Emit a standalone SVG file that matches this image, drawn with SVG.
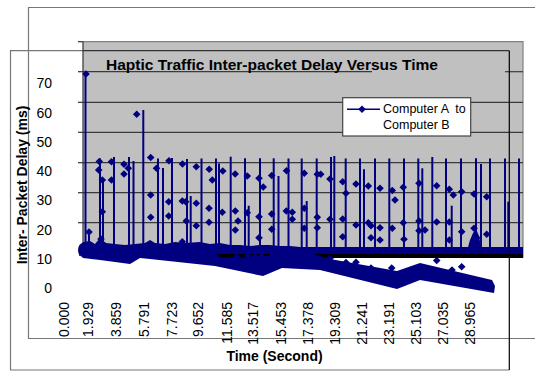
<svg xmlns="http://www.w3.org/2000/svg" xmlns:xlink="http://www.w3.org/1999/xlink" width="535" height="371" viewBox="0 0 535 371">
  <style>
    .frame { fill: none; stroke: #777; stroke-width: 1.2; }
    .grid { stroke: #3a3a3a; stroke-width: 1.2; }
    .spk { stroke: #000080; stroke-width: 2; }
    .dat { fill: #000080; }
    .lbl { font-family: "Liberation Sans", Arial, sans-serif; font-size: 14px; fill: #000; }
    .bold { font-family: "Liberation Sans", Arial, sans-serif; font-weight: bold; fill: #000; }
    .leg { font-family: "Liberation Sans", Arial, sans-serif; font-size: 12.5px; fill: #000; }
  </style>
  <defs>
    <path id="dm" d="M0,-3.8 L3.8,0 L0,3.8 L-3.8,0 Z" fill="#000080"/>
  </defs>

  <rect width="535" height="371" fill="#fff"/>

  <!-- outer chart frame -->
  <g id="outer-frame">
    <path class="frame" d="M540,7.5 H28.5 V338.5 H540"/>
  </g>
  <!-- inner chart frame -->
  <g id="inner-frame">
    <path class="frame" d="M509.3,50.7 H10.5 V370 H509.3"/>
  </g>

  <!-- plot area -->
  <g id="plot-area">
    <rect x="83" y="42" width="440" height="216" fill="#c0c0c0"/>
    <path d="M83,41.7 H523 V258" fill="none" stroke="#808080" stroke-width="1.2"/>
    <g class="grid">
      <line x1="83" y1="71.7" x2="372" y2="71.7"/>
      <line x1="505" y1="71.7" x2="523" y2="71.7"/>
      <line x1="83" y1="102.3" x2="523" y2="102.3"/>
      <line x1="83" y1="132.3" x2="523" y2="132.3"/>
      <line x1="83" y1="162.7" x2="523" y2="162.7"/>
      <line x1="83" y1="192.7" x2="523" y2="192.7"/>
      <line x1="83" y1="222.7" x2="523" y2="222.7"/>
    </g>
    <line x1="83" y1="50.7" x2="509.3" y2="50.7" stroke="#333" stroke-width="1.2"/>
    <!-- value axis with ticks -->
    <g stroke="#333" stroke-width="1.2">
      <line x1="83" y1="41.7" x2="83" y2="258"/>
      <line x1="78" y1="41.7" x2="83" y2="41.7"/>
      <line x1="78" y1="71.7" x2="83" y2="71.7"/>
      <line x1="78" y1="102.3" x2="83" y2="102.3"/>
      <line x1="78" y1="132.3" x2="83" y2="132.3"/>
      <line x1="78" y1="162.7" x2="83" y2="162.7"/>
      <line x1="78" y1="192.7" x2="83" y2="192.7"/>
      <line x1="78" y1="222.7" x2="83" y2="222.7"/>
    </g>
  </g>

  <!-- chart title -->
  <g id="title">
    <text class="bold" x="106" y="69.5" font-size="15" textLength="332" lengthAdjust="spacingAndGlyphs">Haptic Traffic Inter-packet Delay Versus Time</text>
  </g>

  <!-- series: Computer A to Computer B -->
  <g id="series">
    <!-- spikes -->
    <g class="spk">
      <line x1="85.5" y1="247" x2="85.5" y2="74"/>
      <line x1="89" y1="247" x2="89" y2="232"/>
      <line x1="100" y1="247" x2="100" y2="158.5"/>
      <line x1="103" y1="247" x2="103" y2="179"/>
      <line x1="114" y1="247" x2="114" y2="157"/>
      <line x1="129" y1="247" x2="129" y2="157"/>
      <line x1="133.5" y1="247" x2="133.5" y2="161"/>
      <line x1="143.3" y1="247" x2="143.3" y2="110"/>
      <line x1="158" y1="247" x2="158" y2="158.5"/>
      <line x1="163" y1="247" x2="163" y2="168"/>
      <line x1="172" y1="247" x2="172" y2="158"/>
      <line x1="187" y1="247" x2="187" y2="159"/>
      <line x1="190.7" y1="247" x2="190.7" y2="196"/>
      <line x1="201.5" y1="247" x2="201.5" y2="158.5"/>
      <line x1="216" y1="247" x2="216" y2="158.5"/>
      <line x1="219" y1="247" x2="219" y2="163.5"/>
      <line x1="230.7" y1="247" x2="230.7" y2="156.7"/>
      <line x1="245" y1="247" x2="245" y2="158.3"/>
      <line x1="248.7" y1="247" x2="248.7" y2="205.7"/>
      <line x1="260" y1="247" x2="260" y2="158.3"/>
      <line x1="273.7" y1="247" x2="273.7" y2="158.3"/>
      <line x1="278.5" y1="247" x2="278.5" y2="176"/>
      <line x1="288.5" y1="247" x2="288.5" y2="158.5"/>
      <line x1="301.7" y1="247" x2="301.7" y2="158.5"/>
      <line x1="306.7" y1="247" x2="306.7" y2="201"/>
      <line x1="316.7" y1="247" x2="316.7" y2="158.5"/>
      <line x1="331" y1="247" x2="331" y2="157"/>
      <line x1="334.3" y1="247" x2="334.3" y2="156"/>
      <line x1="345.7" y1="247" x2="345.7" y2="158.5"/>
      <line x1="360" y1="247" x2="360" y2="158.5"/>
      <line x1="364" y1="247" x2="364" y2="169.3"/>
      <line x1="375" y1="247" x2="375" y2="158.5"/>
      <line x1="389.3" y1="247" x2="389.3" y2="158.5"/>
      <line x1="404" y1="247" x2="404" y2="158.5"/>
      <line x1="418.3" y1="247" x2="418.3" y2="158.5"/>
      <line x1="422.3" y1="247" x2="422.3" y2="168.3"/>
      <line x1="432.3" y1="247" x2="432.3" y2="157"/>
      <line x1="446" y1="247" x2="446" y2="158.5"/>
      <line x1="451.7" y1="247" x2="451.7" y2="205.7"/>
      <line x1="461" y1="247" x2="461" y2="158.5"/>
      <line x1="476" y1="247" x2="476" y2="158.3"/>
      <line x1="481" y1="247" x2="481" y2="164"/>
      <line x1="490" y1="247" x2="490" y2="158.5"/>
      <line x1="505" y1="247" x2="505" y2="158.5"/>
      <line x1="508.3" y1="247" x2="508.3" y2="201.7"/>
      <line x1="519" y1="247" x2="519" y2="158.5"/>
    </g>

    <!-- dense band of samples near 10 ms -->
    <rect x="83" y="254" width="440" height="4" fill="#000"/>
    <path class="dat" d="M79,247 L83,242 L90,241 L95,244 L100,238 L106,243 L115,244 L125,245 L135,244 L145,243 L150,240 L155,243 L165,244 L175,242 L185,243 L200,242 L210,244 L220,243 L230,245 L240,245 L250,246 L260,245 L270,245 L280,246 L290,246 L300,247 L523,247 L523,254 L83,254 L79,256 Z"/>
    <ellipse class="dat" cx="83" cy="250" rx="5" ry="7"/>
    <!-- lower drifting band -->
    <path class="dat" d="M83,250 L215,252 L220,257.5 L263,258 L275,252 L300,250 L320,256 L330,259 L397,271 L420,263 L492,280 L495,286 L494,293 L420,280 L397,289 L320,270 L282,268 L263,276 L215,266 L150,259 L140,258 L130,264 L100,260 L83,258 Z"/>
    <path class="dat" d="M468,247 L470,240 L473,233 L476,229 L479,236 L481,247 Z"/>

    <!-- markers -->
    <g>
      <use xlink:href="#dm" x="86" y="74"/>
      <use xlink:href="#dm" x="136.7" y="114.3"/>
      <use xlink:href="#dm" x="99.3" y="161.5"/>
      <use xlink:href="#dm" x="98.7" y="170"/>
      <use xlink:href="#dm" x="102.3" y="180"/>
      <use xlink:href="#dm" x="111.5" y="161.7"/>
      <use xlink:href="#dm" x="111.5" y="180"/>
      <use xlink:href="#dm" x="124" y="164.3"/>
      <use xlink:href="#dm" x="124" y="174"/>
      <use xlink:href="#dm" x="128.3" y="168.3"/>
      <use xlink:href="#dm" x="150.7" y="157.5"/>
      <use xlink:href="#dm" x="156.5" y="168.3"/>
      <use xlink:href="#dm" x="169" y="160.7"/>
      <use xlink:href="#dm" x="182.5" y="164"/>
      <use xlink:href="#dm" x="196.3" y="166.7"/>
      <use xlink:href="#dm" x="209.2" y="169.3"/>
      <use xlink:href="#dm" x="212.3" y="180"/>
      <use xlink:href="#dm" x="222.8" y="171"/>
      <use xlink:href="#dm" x="235.2" y="174"/>
      <use xlink:href="#dm" x="247.3" y="176"/>
      <use xlink:href="#dm" x="259" y="178.3"/>
      <use xlink:href="#dm" x="263.2" y="187"/>
      <use xlink:href="#dm" x="271.7" y="175.5"/>
      <use xlink:href="#dm" x="286.5" y="170.8"/>
      <use xlink:href="#dm" x="304.3" y="173.3"/>
      <use xlink:href="#dm" x="317.3" y="174.3"/>
      <use xlink:href="#dm" x="320.7" y="174.3"/>
      <use xlink:href="#dm" x="330" y="179"/>
      <use xlink:href="#dm" x="342.7" y="181.7"/>
      <use xlink:href="#dm" x="346" y="193.3"/>
      <use xlink:href="#dm" x="356" y="184"/>
      <use xlink:href="#dm" x="368.3" y="186"/>
      <use xlink:href="#dm" x="380" y="188.3"/>
      <use xlink:href="#dm" x="392.3" y="190.5"/>
      <use xlink:href="#dm" x="395" y="200"/>
      <use xlink:href="#dm" x="403.3" y="187.3"/>
      <use xlink:href="#dm" x="419" y="183.3"/>
      <use xlink:href="#dm" x="436.7" y="185.7"/>
      <use xlink:href="#dm" x="449.3" y="189.3"/>
      <use xlink:href="#dm" x="453.3" y="195"/>
      <use xlink:href="#dm" x="461.7" y="191.7"/>
      <use xlink:href="#dm" x="474" y="194"/>
      <use xlink:href="#dm" x="486.7" y="196.7"/>

      <use xlink:href="#dm" x="102.3" y="211.7"/>
      <use xlink:href="#dm" x="89" y="232"/>
      <use xlink:href="#dm" x="101" y="239"/>
      <use xlink:href="#dm" x="150.7" y="195"/>
      <use xlink:href="#dm" x="150.7" y="217.3"/>
      <use xlink:href="#dm" x="168.7" y="201.7"/>
      <use xlink:href="#dm" x="168.7" y="216"/>
      <use xlink:href="#dm" x="182.3" y="201"/>
      <use xlink:href="#dm" x="185.7" y="201.7"/>
      <use xlink:href="#dm" x="186.3" y="221"/>
      <use xlink:href="#dm" x="182.3" y="241.7"/>
      <use xlink:href="#dm" x="196.3" y="203.3"/>
      <use xlink:href="#dm" x="196.3" y="225.7"/>
      <use xlink:href="#dm" x="209" y="208.3"/>
      <use xlink:href="#dm" x="209" y="222.3"/>
      <use xlink:href="#dm" x="222.3" y="212.3"/>
      <use xlink:href="#dm" x="235.3" y="211"/>
      <use xlink:href="#dm" x="238" y="221"/>
      <use xlink:href="#dm" x="235.3" y="230"/>
      <use xlink:href="#dm" x="247.3" y="212.7"/>
      <use xlink:href="#dm" x="259" y="216.7"/>
      <use xlink:href="#dm" x="259" y="237.7"/>
      <use xlink:href="#dm" x="271.7" y="214"/>
      <use xlink:href="#dm" x="271.7" y="229.3"/>
      <use xlink:href="#dm" x="286.3" y="211"/>
      <use xlink:href="#dm" x="292.3" y="212.3"/>
      <use xlink:href="#dm" x="292.3" y="219.3"/>
      <use xlink:href="#dm" x="304.3" y="208.3"/>
      <use xlink:href="#dm" x="304.3" y="228.3"/>
      <use xlink:href="#dm" x="317.3" y="217.3"/>
      <use xlink:href="#dm" x="317.3" y="227.7"/>
      <use xlink:href="#dm" x="330" y="219.3"/>
      <use xlink:href="#dm" x="342.7" y="219"/>
      <use xlink:href="#dm" x="342.7" y="236.7"/>
      <use xlink:href="#dm" x="356" y="225"/>
      <use xlink:href="#dm" x="368.3" y="222.7"/>
      <use xlink:href="#dm" x="371" y="225.7"/>
      <use xlink:href="#dm" x="371" y="237.7"/>
      <use xlink:href="#dm" x="380" y="227.7"/>
      <use xlink:href="#dm" x="380" y="240"/>
      <use xlink:href="#dm" x="392.3" y="228.3"/>
      <use xlink:href="#dm" x="403.3" y="222.7"/>
      <use xlink:href="#dm" x="404" y="239.3"/>
      <use xlink:href="#dm" x="419" y="221"/>
      <use xlink:href="#dm" x="419" y="230.7"/>
      <use xlink:href="#dm" x="425" y="230"/>
      <use xlink:href="#dm" x="436.7" y="222"/>
      <use xlink:href="#dm" x="449.3" y="222"/>
      <use xlink:href="#dm" x="449.3" y="240"/>
      <use xlink:href="#dm" x="461.7" y="231.7"/>
      <use xlink:href="#dm" x="474" y="228.3"/>
      <use xlink:href="#dm" x="476.7" y="237.7"/>
      <use xlink:href="#dm" x="486.7" y="234.3"/>

      <use xlink:href="#dm" x="236.7" y="256.7"/>
      <use xlink:href="#dm" x="248" y="255.7"/>
      <use xlink:href="#dm" x="255" y="256.7"/>
      <use xlink:href="#dm" x="261.7" y="256.7"/>
      <use xlink:href="#dm" x="330" y="258.5"/>
      <use xlink:href="#dm" x="346" y="262.5"/>
      <use xlink:href="#dm" x="356" y="262.3"/>
      <use xlink:href="#dm" x="371" y="268"/>
      <use xlink:href="#dm" x="391.7" y="268"/>
      <use xlink:href="#dm" x="436.7" y="260.5"/>
      <use xlink:href="#dm" x="452" y="270"/>
      <use xlink:href="#dm" x="461.7" y="266.7"/>
    </g>
  </g>

  <!-- right edge of inner frame drawn over the data -->
  <line x1="509.3" y1="50.7" x2="509.3" y2="370" stroke="#000" stroke-width="1.2"/>

  <!-- legend -->
  <g id="legend">
    <rect x="342.7" y="97.7" width="128" height="38.3" fill="#fff" stroke="#444" stroke-width="1.2"/>
    <line x1="347" y1="109.3" x2="380" y2="109.3" stroke="#000080" stroke-width="1.5"/>
    <use xlink:href="#dm" x="362" y="109.3"/>
    <text class="leg" x="383" y="113.3" xml:space="preserve">Computer A  to</text>
    <text class="leg" x="383" y="129">Computer B</text>
  </g>

  <!-- value axis labels -->
  <g id="y-labels" class="lbl" text-anchor="end">
    <text x="52" y="88.2">70</text>
    <text x="52" y="117.5">60</text>
    <text x="52" y="146.8">50</text>
    <text x="52" y="176.1">40</text>
    <text x="52" y="205.4">30</text>
    <text x="52" y="234.7">20</text>
    <text x="52" y="264">10</text>
    <text x="52" y="293.3">0</text>
  </g>
  <g id="y-title">
    <text class="bold" font-size="14" text-anchor="middle" transform="translate(27,185) rotate(-90)">Inter- Packet Delay (ms)</text>
  </g>

  <!-- time axis labels -->
  <g id="x-labels" class="lbl" text-anchor="end">
    <text transform="translate(69,302) rotate(-90)">0.000</text>
    <text transform="translate(93.3,302) rotate(-90)">1.929</text>
    <text transform="translate(120.5,302) rotate(-90)">3.859</text>
    <text transform="translate(148.7,302) rotate(-90)">5.791</text>
    <text transform="translate(176.7,302) rotate(-90)">7.723</text>
    <text transform="translate(203.3,302) rotate(-90)">9.652</text>
    <text transform="translate(231.7,302) rotate(-90)">11.585</text>
    <text transform="translate(258.3,302) rotate(-90)">13.517</text>
    <text transform="translate(286,302) rotate(-90)">15.453</text>
    <text transform="translate(313.3,302) rotate(-90)">17.378</text>
    <text transform="translate(340,302) rotate(-90)">19.309</text>
    <text transform="translate(367.3,302) rotate(-90)">21.241</text>
    <text transform="translate(394,302) rotate(-90)">23.191</text>
    <text transform="translate(420.7,302) rotate(-90)">25.103</text>
    <text transform="translate(448.3,302) rotate(-90)">27.035</text>
    <text transform="translate(475,302) rotate(-90)">28.965</text>
  </g>
  <g id="x-title">
    <text class="bold" font-size="14" x="274.5" y="361" text-anchor="middle">Time (Second)</text>
  </g>
</svg>
